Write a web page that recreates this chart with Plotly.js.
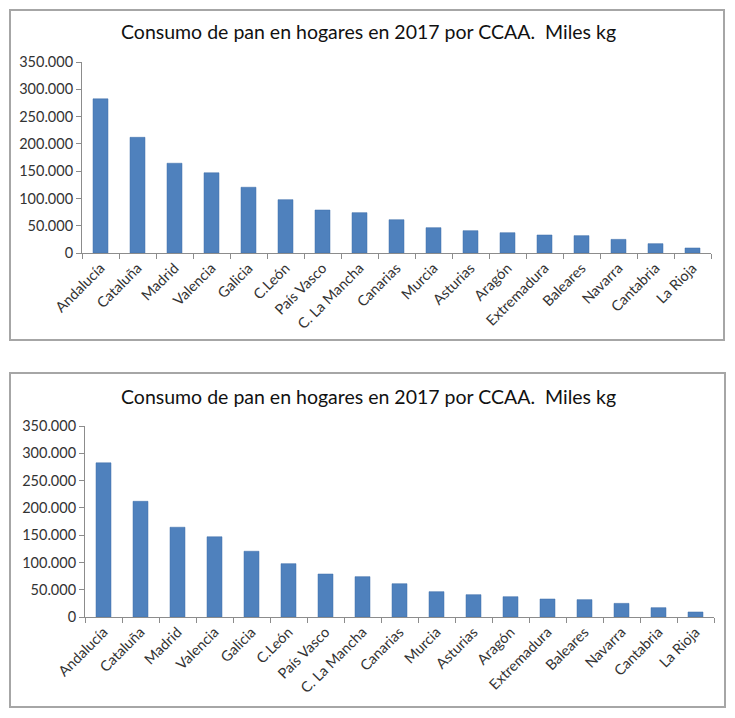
<!DOCTYPE html>
<html>
<head>
<meta charset="utf-8">
<script src="https://cdn.plot.ly/plotly-3.0.1.min.js"></script>
<style>
html,body{margin:0;padding:0;background:#fff;}
#chart{width:735px;height:718px;}
</style>
</head>
<body>
<div id="chart"></div>
<script>
const chartTitle = "Consumo de pan en hogares en 2017 por CCAA.\u00a0\u00a0Miles kg";
const categories = ["Andalucía","Cataluña","Madrid","Valencia","Galicia","C.León","País Vasco","C. La Mancha","Canarias","Murcia","Asturias","Aragón","Extremadura","Baleares","Navarra","Cantabria","La Rioja"];
const consumo = [282500, 212000, 164500, 147000, 120500, 97700, 78800, 73900, 61000, 46400, 40900, 37200, 33000, 31800, 25000, 17100, 9200];

const W = 735, H = 718;
const px = v => v / W;
const py = v => 1 - v / H;

const barColor = "#4f81bd";
const font = {family: "Lato, 'Open Sans', sans-serif", color: "#333333", size: 13};

function bar(xa, ya) {
  return {
    type: "bar", x: categories, y: consumo, xaxis: xa, yaxis: ya,
    marker: {color: barColor, line: {color: "#3f6fa8", width: 0.5}},
    hoverinfo: "x+y", showlegend: false
  };
}

function xAxis(d0, d1, anchor) {
  return {
    domain: [px(d0), px(d1)], anchor: anchor, type: "category",
    showgrid: false, zeroline: false, showline: true, linecolor: "#8c8c8c", linewidth: 1,
    ticks: "outside", tickson: "boundaries", ticklen: 5, tickcolor: "#8c8c8c",
    tickangle: -45, tickfont: {family: font.family, size: 14.5, color: "#333333"},
    fixedrange: true
  };
}
function yAxis(top, bottom, anchor) {
  return {
    domain: [py(bottom), py(top)], anchor: anchor, range: [0, 350000], dtick: 50000,
    tickformat: ",d", showgrid: false, zeroline: false, showline: true,
    linecolor: "#8c8c8c", linewidth: 1, ticks: "outside", ticklen: 5, tickcolor: "#8c8c8c",
    tickfont: {family: font.family, size: 14.5, color: "#333333"}, fixedrange: true
  };
}

const data = [bar("x", "y"), bar("x2", "y2")];

const layout = {
  width: W, height: H,
  margin: {l: 0, r: 0, t: 0, b: 0},
  paper_bgcolor: "#ffffff", plot_bgcolor: "#ffffff",
  separators: ",.",
  font: font,
  bargap: 0.595,
  xaxis: xAxis(82, 711, "y"),
  yaxis: yAxis(62, 253, "x"),
  xaxis2: xAxis(85, 714, "y2"),
  yaxis2: yAxis(426, 617, "x2"),
  shapes: [
    {type: "rect", xref: "paper", yref: "paper", x0: px(10), x1: px(724), y0: py(340), y1: py(10),
     line: {color: "#a6a6a6", width: 2}},
    {type: "rect", xref: "paper", yref: "paper", x0: px(10), x1: px(725), y0: py(707), y1: py(373),
     line: {color: "#a6a6a6", width: 2}}
  ],
  annotations: [
    {text: chartTitle, xref: "paper", yref: "paper", x: px(368), y: py(31), xanchor: "center", yanchor: "middle",
     showarrow: false, font: {family: font.family, size: 19.5, color: "#111111"}},
    {text: chartTitle, xref: "paper", yref: "paper", x: px(368), y: py(396), xanchor: "center", yanchor: "middle",
     showarrow: false, font: {family: font.family, size: 19.5, color: "#111111"}}
  ]
};

Plotly.newPlot("chart", data, layout, {displayModeBar: false, staticPlot: true});
</script>
</body>
</html>
